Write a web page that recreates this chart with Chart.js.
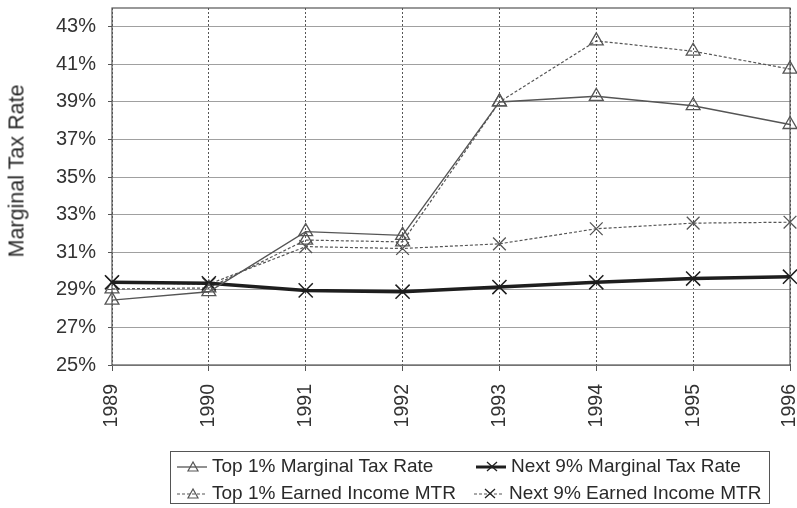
<!DOCTYPE html>
<html>
<head>
<meta charset="utf-8">
<script src="https://cdn.jsdelivr.net/npm/chart.js@4"></script>
<style>
  html, body { margin: 0; padding: 0; background: #fff; }
  #wrap { position: relative; width: 797px; height: 508px; font-family: "Liberation Sans", Arial, sans-serif; color: #2a2a2a; }
  #yTitle { position: absolute; left: 17px; top: 171px; transform: translate(-50%, -50%) rotate(-90deg); font-size: 21.5px; white-space: nowrap; }
  #legend { position: absolute; left: 170px; top: 451px; width: 600px; height: 53px; border: 1px solid #555; box-sizing: border-box; font-size: 19px; }
  .item { position: absolute; display: flex; align-items: center; white-space: nowrap; }
  .item svg { margin-right: 4px; }
</style>
</head>
<body>
<div id="wrap">
  <canvas id="taxChart" width="797" height="508"></canvas>
  <div id="yTitle">Marginal Tax Rate</div>
  <div id="legend"></div>
</div>
<script>
  // Chart data
  const years = ['1989', '1990', '1991', '1992', '1993', '1994', '1995', '1996'];
  const top1Mtr = [28.45, 28.9, 32.1, 31.9, 39.0, 39.3, 38.8, 37.8];
  const top1Earned = [29.05, 29.1, 31.65, 31.55, 39.0, 42.25, 41.7, 40.75];
  const next9Mtr = [29.4, 29.35, 28.97, 28.9, 29.15, 29.4, 29.6, 29.7];
  const next9Earned = [29.4, 29.3, 31.3, 31.2, 31.45, 32.25, 32.55, 32.6];
  const yTicks = [25, 27, 29, 31, 33, 35, 37, 39, 41, 43];
  const seriesNames = ['Top 1% Marginal Tax Rate', 'Next 9% Marginal Tax Rate', 'Top 1% Earned Income MTR', 'Next 9% Earned Income MTR'];

  const FONT = '"Liberation Sans", Arial, sans-serif';

  // Plot frame drawn round the chart area
  const framePlugin = {
    id: 'frame',
    beforeDatasetsDraw(chart) {
      const { ctx, chartArea: a } = chart;
      ctx.save();
      ctx.strokeStyle = '#555';
      ctx.lineWidth = 1.2;
      ctx.strokeRect(a.left, a.top, a.right - a.left, a.bottom - a.top);
      ctx.restore();
    }
  };

  const thin = '#555';
  const dark = '#1e1e1e';

  new Chart(document.getElementById('taxChart'), {
    type: 'line',
    data: {
      labels: years,
      datasets: [
        {
          label: seriesNames[0], data: top1Mtr,
          borderColor: thin, borderWidth: 1.4, pointStyle: 'triangle', pointRadius: 8,
          pointBorderColor: thin, pointBackgroundColor: 'rgba(0,0,0,0)', pointBorderWidth: 1.3
        },
        {
          label: seriesNames[1], data: next9Mtr,
          borderColor: dark, borderWidth: 3.5, pointStyle: 'crossRot', pointRadius: 10,
          pointBorderColor: dark, pointBorderWidth: 1.5
        },
        {
          label: seriesNames[2], data: top1Earned,
          borderColor: thin, borderWidth: 1.2, borderDash: [3, 2], pointStyle: 'triangle', pointRadius: 8,
          pointBorderColor: thin, pointBackgroundColor: 'rgba(0,0,0,0)', pointBorderWidth: 1.3
        },
        {
          label: seriesNames[3], data: next9Earned,
          borderColor: thin, borderWidth: 1.2, borderDash: [3, 2], pointStyle: 'crossRot', pointRadius: 9,
          pointBorderColor: thin, pointBorderWidth: 1.3
        }
      ]
    },
    options: {
      responsive: false,
      animation: false,
      layout: { autoPadding: false, padding: { top: 8, right: 7, left: 0, bottom: 0 } },
      plugins: { legend: { display: false }, tooltip: { enabled: false } },
      elements: { line: { tension: 0 } },
      scales: {
        x: {
          offset: false,
          afterFit: (scale) => {
            scale.height = 143;
            scale.paddingLeft = 0;
            scale.paddingRight = 0;
          },
          grid: { color: '#555', lineWidth: 1, tickLength: 6, tickColor: '#555' },
          border: { display: false, dash: [2, 2] },
          ticks: { minRotation: 90, maxRotation: 90, padding: 13, color: '#333', font: { family: FONT, size: 19.5 } }
        },
        y: {
          min: 25,
          max: 44,
          afterFit: (scale) => {
            scale.width = 112;
            scale.paddingTop = 0;
            scale.paddingBottom = 0;
          },
          afterBuildTicks: (scale) => {
            scale.ticks = yTicks.map(v => ({ value: v }));
          },
          grid: { color: '#a0a0a0', lineWidth: 1, tickLength: 4, tickColor: '#555' },
          border: { display: false },
          ticks: {
            padding: 12, color: '#333', font: { family: FONT, size: 20 },
            callback: (v) => v + '%'
          }
        }
      }
    },
    plugins: [framePlugin]
  });

  // HTML legend with small line samples
  const legendIcon = (solid, width, marker) => {
    const dash = solid ? '' : 'stroke-dasharray="3 2"';
    const mk = marker === 'tri'
      ? '<polygon points="17,5 12,14 22,14" fill="none" stroke="#555" stroke-width="1.2"/>'
      : '<path d="M12,5 L22,14 M22,5 L12,14" stroke="#222" stroke-width="1.3"/>';
    return `<svg width="32" height="18"><line x1="1" y1="10" x2="31" y2="10" stroke="${width > 2 ? '#1e1e1e' : '#555'}" stroke-width="${width}" ${dash}/>${mk}</svg>`;
  };
  const legendItems = [
    { name: seriesNames[0], left: 5, top: 3, solid: true, width: 1.3, marker: 'tri' },
    { name: seriesNames[1], left: 304, top: 3, solid: true, width: 3, marker: 'x' },
    { name: seriesNames[2], left: 5, top: 30, solid: false, width: 1.2, marker: 'tri' },
    { name: seriesNames[3], left: 302, top: 30, solid: false, width: 1.2, marker: 'x' }
  ];
  const legendBox = document.getElementById('legend');
  legendItems.forEach(it => {
    const el = document.createElement('div');
    el.className = 'item';
    el.style.left = it.left + 'px';
    el.style.top = it.top + 'px';
    el.innerHTML = legendIcon(it.solid, it.width, it.marker) + `<span>${it.name}</span>`;
    legendBox.appendChild(el);
  });
</script>
</body>
</html>
